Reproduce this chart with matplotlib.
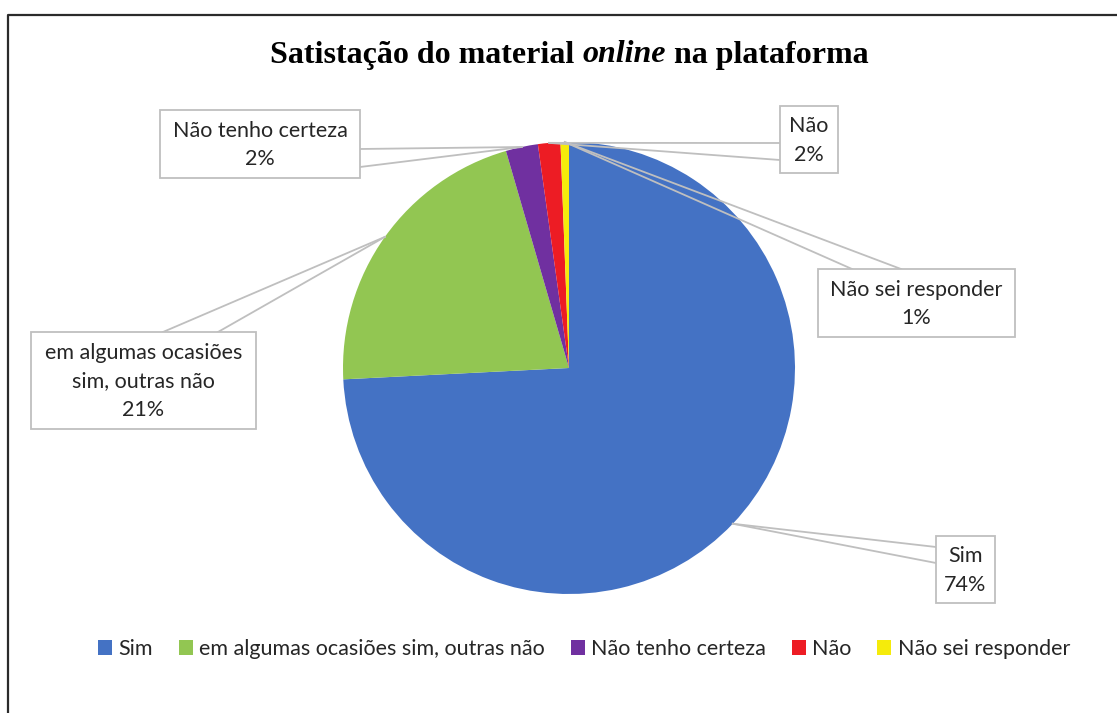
import matplotlib
matplotlib.use("Agg")
import matplotlib.pyplot as plt
from matplotlib.patches import Rectangle, Patch
from matplotlib.lines import Line2D
import numpy as np

# dados (percentagens)
categorias = ["Sim", "em algumas ocasiões sim, outras não", "Não tenho certeza",
              "Não", "Não sei responder"]
rotulos = ["Sim", "em algumas ocasiões\nsim, outras não", "Não tenho certeza",
           "Não", "Não sei responder"]
valores = [74.2, 21.3, 2.3, 1.6, 0.6]
cores = ["#4472C4", "#92C652", "#7030A0", "#ED1C24", "#F5EB0B"]

W, H = 1117, 713
fig = plt.figure(figsize=(W / 100, H / 100), dpi=100)
ax = fig.add_axes([0, 0, 1, 1])

cx, cy, r = 569, 368, 226
# eixo y invertido (pixels): startangle -90 = topo, counterclock=True = sentido horário visual
wedges, _ = ax.pie(valores, colors=cores, startangle=-90, counterclock=True,
                   radius=r, center=(cx, cy), frame=True,
                   wedgeprops=dict(linewidth=0))
ax.set_xlim(0, W)
ax.set_ylim(H, 0)
ax.set_aspect("equal")
ax.axis("off")

# moldura
ax.plot([8, 8, W + 5], [H + 5, 15, 15], color="#2b2b2b", lw=1.6, solid_capstyle="butt")

# caixas de rótulo: (x0, y0, x1, y1) e pontos de base do ponteiro
caixas = [
    ((936, 536, 995, 603), [(936, 547), (936, 563)]),
    ((31, 332, 256, 429), [(163, 332), (218, 332)]),
    ((160, 110, 360, 178), [(360, 149), (360, 167)]),
    ((780, 106, 838, 173), [(780, 143), (780, 160)]),
    ((818, 269, 1015, 337), [(852, 269), (901, 269)]),
]
fonte = "Lato"
cor_txt = "#262626"
cor_borda = "#BFBFBF"
for w, val, lab, (box, bases) in zip(wedges, valores, rotulos, caixas):
    ang = np.deg2rad((w.theta1 + w.theta2) / 2)
    tx = cx + r * np.cos(ang)
    ty = cy + r * np.sin(ang)
    x0, y0, x1, y1 = box
    for bx, by in bases:
        ax.add_line(Line2D([bx, tx], [by, ty], color=cor_borda, lw=1.3, zorder=3))
    ax.add_patch(Rectangle((x0, y0), x1 - x0, y1 - y0, facecolor="white",
                           edgecolor=cor_borda, lw=1.3, zorder=4))
    ax.text((x0 + x1) / 2, (y0 + y1) / 2 + 1, f"{lab}\n{round(val):.0f}%", ha="center",
            va="center", fontsize=15.5, family=fonte, color=cor_txt, zorder=5,
            linespacing=1.55)

# título com parte em itálico
partes = [("Satistação do material ", "normal"), ("online", "italic"), (" na plataforma", "normal")]
objs = [ax.text(0, 55, s, fontsize=23, family="Liberation Serif", weight="bold",
                style=st, va="center", ha="left", color="black") for s, st in partes]
fig.canvas.draw()
rend = fig.canvas.get_renderer()
larg = [o.get_window_extent(rend).width for o in objs]
x = cx - sum(larg) / 2
for o, lw_ in zip(objs, larg):
    o.set_x(x)
    x += lw_

# legenda
handles = [Patch(facecolor=c, edgecolor="none") for c in cores]
ax.legend(handles, categorias, loc="center", bbox_to_anchor=(584 / W, 1 - 649 / H),
          ncol=5, frameon=False, handlelength=0.65, handleheight=0.65,
          handletextpad=0.3, columnspacing=1.2,
          prop=dict(family=fonte, size=15.5), labelcolor=cor_txt)

fig.savefig("out.png", dpi=100)
